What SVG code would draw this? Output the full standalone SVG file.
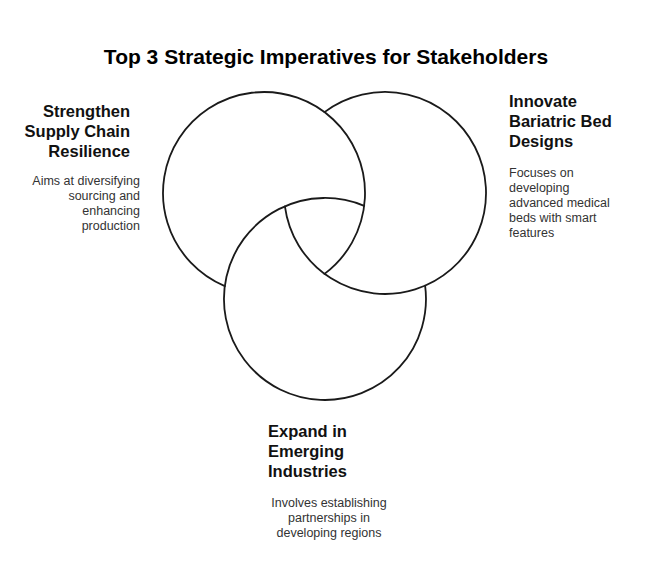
<svg xmlns="http://www.w3.org/2000/svg" width="650" height="574" viewBox="0 0 650 574">
<style>
.ring{fill:none;stroke:#1a1a1a;stroke-width:1.8;stroke-linecap:round}
.title{font-family:"Liberation Sans",Arial,sans-serif;font-weight:bold;font-size:21px;fill:#000}
.head{font-family:"Liberation Sans",Arial,sans-serif;font-weight:bold;font-size:16.5px;fill:#111}
.desc{font-family:"Liberation Sans",Arial,sans-serif;font-size:12.5px;fill:#333}
</style>
<rect width="650" height="574" fill="#fff"/>
<text class="title" x="326" y="64" text-anchor="middle">Top 3 Strategic Imperatives for Stakeholders</text>
<g id="connectors">
<path id="ring-left" class="ring" d="M224.8,286.1 A101,101 0 1 1 324.5,273.9"/>
<path id="ring-right" class="ring" d="M324.5,112.1 A101,101 0 1 1 284.9,206.3"/>
<path id="ring-bottom" class="ring" d="M425.1,285.7 A101,101 0 1 1 364.2,205.9"/>
</g>
<g id="node-supply">
<text class="head" text-anchor="end"><tspan x="130" y="117">Strengthen</tspan><tspan x="130" y="137">Supply Chain</tspan><tspan x="130" y="157">Resilience</tspan></text>
<text class="desc" text-anchor="end"><tspan x="140" y="185">Aims at diversifying</tspan><tspan x="140" y="200">sourcing and</tspan><tspan x="140" y="215">enhancing</tspan><tspan x="140" y="230">production</tspan></text>
</g>
<g id="node-bed">
<text class="head"><tspan x="509" y="107">Innovate</tspan><tspan x="509" y="127">Bariatric Bed</tspan><tspan x="509" y="147">Designs</tspan></text>
<text class="desc"><tspan x="509" y="177">Focuses on</tspan><tspan x="509" y="192">developing</tspan><tspan x="509" y="207">advanced medical</tspan><tspan x="509" y="222">beds with smart</tspan><tspan x="509" y="237">features</tspan></text>
</g>
<g id="node-expand">
<text class="head"><tspan x="268" y="437">Expand in</tspan><tspan x="268" y="457">Emerging</tspan><tspan x="268" y="477">Industries</tspan></text>
<text class="desc" text-anchor="middle"><tspan x="329" y="507">Involves establishing</tspan><tspan x="329" y="522">partnerships in</tspan><tspan x="329" y="537">developing regions</tspan></text>
</g>
</svg>
